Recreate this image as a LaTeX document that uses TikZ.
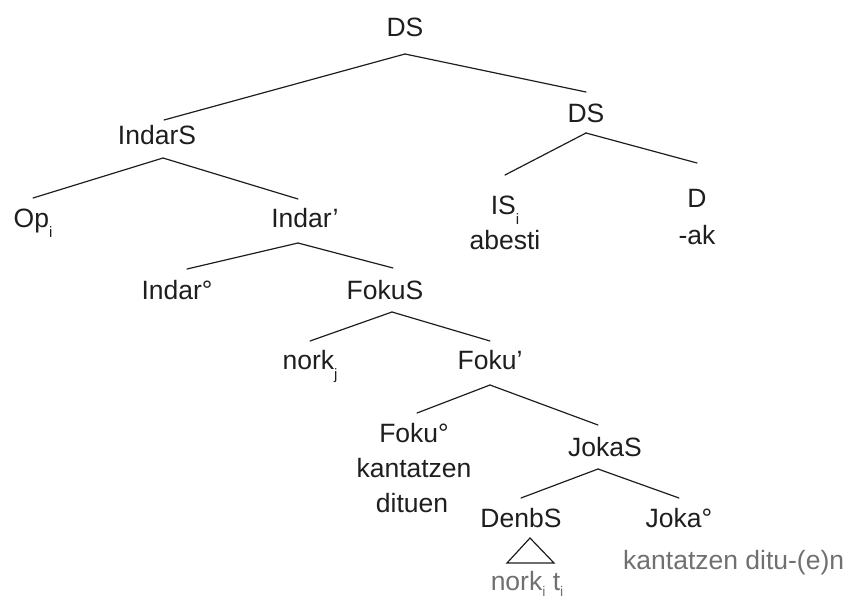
\documentclass[tikz,border=0pt]{standalone}
\usepackage{fontspec}
\setmainfont{Liberation Sans}
\definecolor{inkc}{RGB}{30,30,30}
\definecolor{leafc}{RGB}{112,112,112}
% small lowered index after a label
\newcommand\idx[1]{\raisebox{-10pt}{\fontsize{15}{15}\selectfont #1}}
% same, sitting a little higher, for the bottom line
\newcommand\lowidx[1]{\raisebox{-6pt}{\fontsize{14}{14}\selectfont #1}}
\begin{document}
\begin{tikzpicture}[x=1pt,y=-1pt,
  lbl/.style={anchor=base,inner sep=0pt,text=inkc,font=\fontsize{26.5}{32}\selectfont},
  leaf/.style={lbl,text=leafc},
  branch/.style={draw=inkc,line width=1.2pt,line cap=round}]
\useasboundingbox (0,0) rectangle (858,599);

% labels
\node[lbl] (ds)     at (405,37)  {DS};
\node[lbl] (indars) at (157,144) {IndarS};
\node[lbl] (dsr)    at (586,122) {DS};
\node[lbl] (op)     at (33,227)  {Op\idx{i}};
\node[lbl] (indarb) at (305,227) {Indar’};
\node[lbl] (is)     at (505,214) {IS\idx{i}};
\node[lbl] (abesti) at (505,249) {abesti};
\node[lbl] (d)      at (697,207) {D};
\node[lbl] (ak)     at (697,244) {-ak};
\node[lbl] (indaro) at (177,299) {Indar°};
\node[lbl] (fokus)  at (385,299) {FokuS};
\node[lbl] (nork)   at (310,369) {nork\idx{j}};
\node[lbl] (fokub)  at (490,369) {Foku’};
\node[lbl] (fokuo)  at (414,442) {Foku°};
\node[lbl] (kant)   at (414,477) {kantatzen};
\node[lbl] (dituen) at (412,512) {dituen};
\node[lbl] (jokas)  at (605,456) {JokaS};
\node[lbl] (denbs)  at (521,527) {DenbS};
\node[lbl] (jokao)  at (679,527) {Joka°};
\node[leaf] (trace) at (527,590) {nork\lowidx{i}\ t\lowidx{i}};
\node[leaf,anchor=base west] (verb) at (623,569) {kantatzen ditu-(e)n};

% branches
\draw[branch] ([yshift=-17pt]ds.base) -- ([xshift=7pt,yshift=24pt]indars.base);
\draw[branch] ([yshift=-17pt]ds.base) -- ([yshift=30pt]dsr.base);
\draw[branch] ([xshift=6pt,yshift=-14pt]indars.base) -- ([yshift=29pt]op.base);
\draw[branch] ([xshift=6pt,yshift=-14pt]indars.base) -- ([xshift=-7pt,yshift=28pt]indarb.base);
\draw[branch] ([yshift=-11pt]dsr.base) -- ([yshift=39pt]is.base);
\draw[branch] ([yshift=-11pt]dsr.base) -- ([yshift=44pt]d.base);
\draw[branch] ([xshift=-7pt,yshift=-16pt]indarb.base) -- ([xshift=10pt,yshift=30pt]indaro.base);
\draw[branch] ([xshift=-7pt,yshift=-16pt]indarb.base) -- ([xshift=8pt,yshift=31pt]fokus.base);
\draw[branch] ([xshift=7pt,yshift=-13pt]fokus.base) -- ([yshift=28pt]nork.base);
\draw[branch] ([xshift=7pt,yshift=-13pt]fokus.base) -- ([yshift=28pt]fokub.base);
\draw[branch] ([yshift=-16pt]fokub.base) -- ([xshift=3pt,yshift=29pt]fokuo.base);
\draw[branch] ([yshift=-16pt]fokub.base) -- ([xshift=-7pt,yshift=31pt]jokas.base);
\draw[branch] ([xshift=-7pt,yshift=-13pt]jokas.base) -- ([yshift=29pt]denbs.base);
\draw[branch] ([xshift=-7pt,yshift=-13pt]jokas.base) -- ([yshift=29pt]jokao.base);

% roof over the collapsed DenbS
\coordinate (roof-top)   at (530,538);
\coordinate (roof-left)  at (507,563);
\coordinate (roof-right) at (554,563);
\draw[branch,line join=miter] (roof-top) -- (roof-left) -- (roof-right) -- cycle;
\end{tikzpicture}
\end{document}
